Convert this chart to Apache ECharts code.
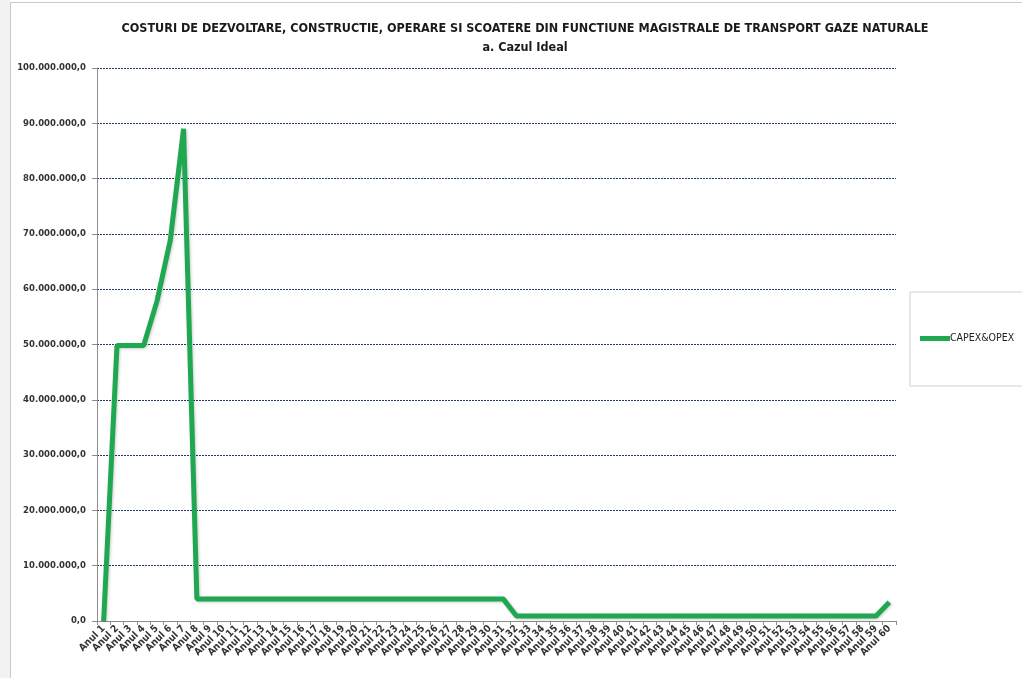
<!DOCTYPE html>
<html>
<head>
<meta charset="utf-8">
<script src="https://cdn.jsdelivr.net/npm/echarts@6/dist/echarts.min.js"></script>
<style>
html,body{margin:0;padding:0;background:#ffffff;}
#chart{width:1022px;height:678px;}
</style>
</head>
<body>
<div id="chart"></div>
<script>
// Annual cost profile (lei) for years 1..60
const years = [];
for (let i = 1; i <= 60; i++) years.push('Anul ' + i);

const capexOpex = [
  0, 49800000, 49800000, 49800000, 57800000, 68800000, 89000000,
  4000000, 4000000, 4000000, 4000000, 4000000, 4000000, 4000000, 4000000,
  4000000, 4000000, 4000000, 4000000, 4000000, 4000000, 4000000, 4000000,
  4000000, 4000000, 4000000, 4000000, 4000000, 4000000, 4000000, 4000000,
  900000, 900000, 900000, 900000, 900000, 900000, 900000, 900000,
  900000, 900000, 900000, 900000, 900000, 900000, 900000, 900000,
  900000, 900000, 900000, 900000, 900000, 900000, 900000, 900000,
  900000, 900000, 900000, 900000, 3400000
];

const titleMain = 'COSTURI DE DEZVOLTARE, CONSTRUCTIE, OPERARE SI SCOATERE DIN FUNCTIUNE MAGISTRALE DE TRANSPORT GAZE NATURALE';
const titleSub = 'a. Cazul Ideal';
const seriesName = 'CAPEX&OPEX';

const narrow = "'DejaVu Sans Condensed', 'Liberation Sans', sans-serif";

function fmt(v) {
  const s = Math.round(v).toString().replace(/\B(?=(\d{3})+(?!\d))/g, '.');
  return s + ',0';
}

const chart = echarts.init(document.getElementById('chart'));
chart.setOption({
  animation: false,
  backgroundColor: '#ffffff',
  graphic: [
    {type: 'rect', shape: {x: 10.5, y: 2.5, width: 1030, height: 690},
     style: {fill: 'none', stroke: '#c8c8c8', lineWidth: 1}},
    {type: 'rect', shape: {x: 0, y: 0, width: 10, height: 678},
     style: {fill: '#f2f2f2'}, silent: true}
  ],
  title: {
    text: titleMain + '\n' + titleSub,
    left: 520, top: 14, textAlign: 'center',
    textStyle: {fontFamily: narrow, fontWeight: 'bold', fontSize: 12.5,
      color: '#1a1a1a', lineHeight: 19}
  },
  legend: {
    data: [seriesName],
    orient: 'vertical',
    left: 910, top: 292,
    width: 120, height: 90,
    padding: [41, 20, 42, 10],
    backgroundColor: '#ffffff',
    borderColor: '#d0d0d0', borderWidth: 1,
    itemWidth: 30, itemHeight: 5, itemGap: 2,
    icon: 'rect',
    textStyle: {fontFamily: narrow, fontSize: 10.5, color: '#222', padding: [0,0,0,-5]}
  },
  grid: {left: 97, right: 126, top: 68, bottom: 57, containLabel: false},
  xAxis: {
    type: 'category',
    data: years,
    boundaryGap: true,
    axisLine: {lineStyle: {color: '#8c8c8c', width: 1}},
    axisTick: {show: true, interval: 0, length: 4, lineStyle: {color: '#8c8c8c'}},
    axisLabel: {interval: 0, rotate: 45, margin: 6,
      fontFamily: narrow, fontWeight: 'bold', fontSize: 10, color: '#333'}
  },
  yAxis: {
    type: 'value',
    min: 0, max: 100000000, interval: 10000000,
    axisLine: {show: true, lineStyle: {color: '#8c8c8c', width: 1}},
    axisTick: {show: true, length: 5, lineStyle: {color: '#8c8c8c'}},
    axisLabel: {formatter: fmt, margin: 11, fontFamily: "'DejaVu Sans', sans-serif", fontWeight: 'bold',
      fontSize: 8.5, color: '#333'},
    splitLine: {show: true, lineStyle: {color: '#1f3864', type: [2, 1], width: 1}}
  },
  series: [{
    name: seriesName,
    type: 'line',
    data: capexOpex,
    symbol: 'none',
    lineStyle: {color: '#1fa851', width: 5, shadowColor: 'rgba(0,0,0,0.2)', shadowBlur: 3, shadowOffsetX: 1, shadowOffsetY: 1},
    itemStyle: {color: '#1fa851'}
  }]
});
</script>
</body>
</html>
